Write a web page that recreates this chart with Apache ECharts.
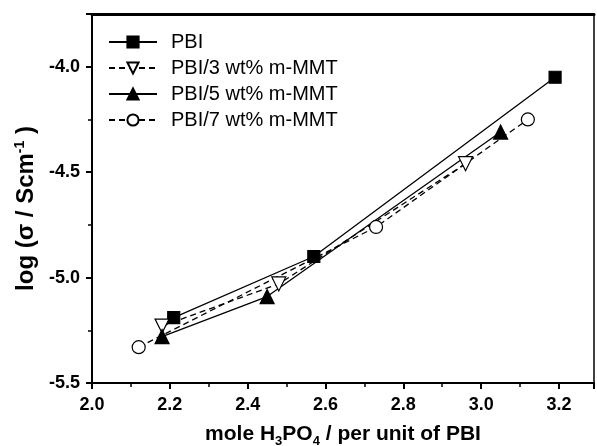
<!DOCTYPE html>
<html>
<head>
<meta charset="utf-8">
<script src="https://cdn.jsdelivr.net/npm/echarts@6/dist/echarts.min.js"></script>
<style>
  html, body { margin: 0; padding: 0; background: #fff; }
  #chart { width: 597px; height: 446px; }
</style>
</head>
<body>
<div id="chart"></div>
<script>
// values
var seriesNames = ['PBI', 'PBI/3 wt% m-MMT', 'PBI/5 wt% m-MMT', 'PBI/7 wt% m-MMT'];
var pbiData  = [[2.21, -5.19], [2.57, -4.90], [3.19, -4.05]];
var pbi3Data = [[2.18, -5.23], [2.48, -5.03], [2.96, -4.46]];
var pbi5Data = [[2.18, -5.28], [2.45, -5.09], [3.05, -4.31]];
var pbi7Data = [[2.12, -5.33], [2.73, -4.76], [3.12, -4.25]];

var sFont = '"Liberation Sans", Arial, sans-serif';

function makeSeries(name, data, symbol, filled, dashed, size, rotate) {
    return {
        name: name,
        type: 'line',
        data: data,
        symbol: symbol,
        symbolSize: size,
        symbolRotate: rotate || 0,
        showAllSymbol: true,
        lineStyle: {color: '#000', width: 1.3, type: dashed ? [6, 4] : 'solid'},
        itemStyle: {color: filled ? '#000' : '#fff', borderColor: '#000', borderWidth: 1.2},
        emphasis: {disabled: true},
        z: 3
    };
}

var oChart = echarts.init(document.getElementById('chart'));
oChart.setOption({
    animation: false,
    backgroundColor: '#fff',
    textStyle: {fontFamily: sFont},
    grid: {left: 92, right: 3, top: 14, bottom: 63, containLabel: false, outerBoundsMode: 'none'},
    legend: {
        orient: 'vertical',
        left: 103,
        top: 27,
        itemWidth: 48,
        itemHeight: 14,
        itemGap: 6,
        textStyle: {fontSize: 20, color: '#000', fontFamily: sFont, padding: [0, 0, 0, 9]},
        data: seriesNames
    },
    xAxis: [{
        type: 'value',
        min: 2.0,
        max: 3.29,
        interval: 0.2,
        name: '{t|mole H}{s|3}{t|PO}{s|4}{t| / per unit of PBI}',
        nameLocation: 'middle',
        nameGap: 38,
        nameTextStyle: {
            rich: {
                t: {fontSize: 21, fontWeight: 'bold', color: '#000', fontFamily: sFont},
                s: {fontSize: 13, fontWeight: 'bold', color: '#000', fontFamily: sFont, padding: [14, 0, 0, 0]}
            }
        },
        axisLine: {onZero: false, lineStyle: {color: '#000', width: 2}},
        axisTick: {inside: false, length: 6, lineStyle: {color: '#000', width: 2}},
        minorTick: {show: true, splitNumber: 2, length: 4, lineStyle: {color: '#000', width: 1.5}},
        axisLabel: {
            color: '#000', fontSize: 18, fontWeight: 'bold', margin: 13, fontFamily: sFont,
            formatter: function (v) { return v.toFixed(1); },
            showMaxLabel: false
        },
        splitLine: {show: false}
    }, {
        type: 'value',
        position: 'top',
        min: 2.0,
        max: 3.29,
        axisLine: {onZero: false, lineStyle: {color: '#000', width: 3}},
        axisTick: {show: false},
        axisLabel: {show: false},
        splitLine: {show: false}
    }],
    yAxis: [{
        type: 'value',
        min: -5.5,
        max: -3.75,
        interval: 0.5,
        name: '{t|log (σ / Scm}{u|-1}{t| )}',
        nameLocation: 'middle',
        nameGap: 43,
        nameTextStyle: {
            padding: [0, 20, 0, 0],
            rich: {
                t: {fontSize: 24, fontWeight: 'bold', color: '#000', fontFamily: sFont},
                u: {fontSize: 14, fontWeight: 'bold', color: '#000', fontFamily: sFont, padding: [0, 0, 12, 0]}
            }
        },
        axisLine: {onZero: false, lineStyle: {color: '#000', width: 2}},
        axisTick: {inside: false, length: 6, lineStyle: {color: '#000', width: 2}},
        minorTick: {show: true, splitNumber: 2, length: 4, lineStyle: {color: '#000', width: 1.5}},
        axisLabel: {
            color: '#000', fontSize: 18, fontWeight: 'bold', margin: 12, fontFamily: sFont,
            formatter: function (v) { return v.toFixed(1); },
            showMaxLabel: false
        },
        splitLine: {show: false}
    }, {
        type: 'value',
        position: 'right',
        min: -5.5,
        max: -3.75,
        axisLine: {show: true, onZero: false, lineStyle: {color: '#000', width: 1.5}},
        axisTick: {show: false},
        axisLabel: {show: false},
        splitLine: {show: false}
    }],
    series: [
        makeSeries(seriesNames[0], pbiData, 'rect', true, false, 12),
        makeSeries(seriesNames[1], pbi3Data, 'triangle', false, true, 14, 180),
        makeSeries(seriesNames[2], pbi5Data, 'triangle', true, false, 14),
        makeSeries(seriesNames[3], pbi7Data, 'circle', false, true, 13)
    ]
});
</script>
</body>
</html>
